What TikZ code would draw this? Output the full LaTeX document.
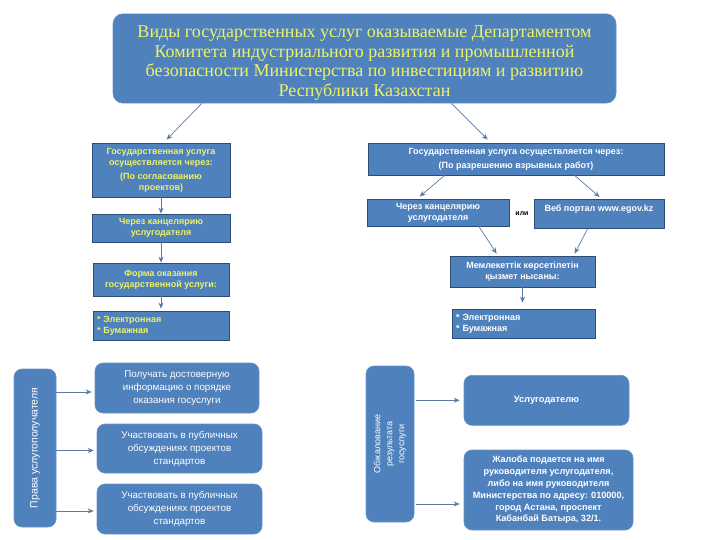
\documentclass[tikz,border=0pt]{standalone}
\usepackage{fontspec}
\setmainfont{Liberation Serif}
\setsansfont{Liberation Sans}
\usetikzlibrary{arrows.meta,calc}
\definecolor{myblue}{HTML}{4F81BD}
\definecolor{myedge}{HTML}{2C4D75}
\definecolor{myarrow}{HTML}{5A7AA6}
\definecolor{myyellow}{HTML}{EEF266}
\tikzset{
  sq/.style={rectangle, fill=myblue, draw=myedge, line width=0.8pt, inner sep=2pt, align=center, font=\sffamily\bfseries\fontsize{9}{11}\selectfont},
  rnd/.style={rectangle, rounded corners=8pt, fill=myblue, draw=myblue!85!white, line width=0.6pt, inner sep=3pt, align=center, text=white},
  arr/.style={draw=myarrow, line width=0.7pt, -{Stealth[length=6pt,width=5pt]}},
}
\begin{document}
\begin{tikzpicture}[x=1pt,y=-1pt]
\useasboundingbox (0,0) rectangle (720,540);
\fill[white] (0,0) rectangle (720,540);
% title
\node[rnd, rounded corners=10pt, minimum width=503pt, minimum height=89pt, text=myyellow, font=\fontsize{18}{19.5}\selectfont] (title) at (364.5,58.5)
 {\rule{0pt}{21pt}Виды государственных услуг оказываемые Департаментом\\Комитета индустриального развития и промышленной\\безопасности Министерства по инвестициям и развитию\\Республики Казахстан};
% left column
\node[sq, text=myyellow, minimum width=138pt, minimum height=54pt] (b1) at (161,170)
 {Государственная услуга\\осуществляется через:\\[3pt](По согласованию\\проектов)};
\node[sq, text=myyellow, minimum width=138pt, minimum height=28pt] (b2) at (161,228)
 {Через канцелярию\\услугодателя};
\node[sq, text=myyellow, minimum width=136pt, minimum height=33pt] (b3) at (161,279.5)
 {Форма оказания\\государственной услуги:};
\node[sq, text=myyellow, minimum width=136pt, minimum height=29pt, align=left, text width=128pt] (b4) at (161,325.5)
 {* Электронная\\\relax * Бумажная};
\draw[arr] ([xshift=89pt]title.south west) -- ([xshift=75pt,yshift=3pt]b1.north west);
\draw[arr] (b1.south) -- (b2.north);
\draw[arr] (b2.south) -- (b3.north);
\draw[arr] (b3.south) -- ([yshift=2pt]b4.north);
% right column
\node[sq, text=white, minimum width=296pt, minimum height=32pt] (r1) at (516,159)
 {Государственная услуга осуществляется через:\\[3pt](По разрешению взрывных работ)};
\node[sq, text=white, minimum width=142pt, minimum height=27pt] (r2a) at (438,212.5)
 {Через канцелярию\\услугодателя};
\node[sq, text=white, minimum width=130pt, minimum height=29pt, anchor=north] (r2b) at (599,199)
 {Веб портал www.egov.kz\\\mbox{}};
\node[font=\sffamily\bfseries\fontsize{7}{8}\selectfont] (ili) at (522,214) {или};
\node[sq, text=white, minimum width=145pt, minimum height=31pt] (r3) at (522.5,271.5)
 {Мемлекеттік көрсетілетін\\қызмет нысаны:};
\node[sq, text=white, minimum width=143pt, minimum height=29pt, align=left, text width=135pt] (r4) at (523.5,323.5)
 {* Электронная\\\relax * Бумажная};
\draw[arr] ([xshift=339pt]title.south west) -- ([xshift=120pt,yshift=3pt]r1.north west);
\draw[arr] ([xshift=77pt]r1.south west) -- ([xshift=53pt,yshift=2pt]r2a.north west);
\draw[arr] ([xshift=207pt]r1.south west) -- ([xshift=66pt,yshift=2pt]r2b.north west);
\draw[arr] ([xshift=111pt,yshift=2pt]r2a.south west) -- ([xshift=47pt,yshift=2pt]r3.north west);
\draw[arr] ([xshift=54pt]r2b.south west) -- ([xshift=125pt,yshift=2pt]r3.north west);
\draw[arr] (r3.south) -- ([yshift=6pt]r3.south |- r4.north);
% bottom left
\node[rnd, minimum width=42pt, minimum height=158pt] (vl) at (35,448) {};
\node[rotate=90, text=white, font=\sffamily\fontsize{10.5}{12}\selectfont] (vlt) at (vl.center) {Права услугополучателя};
\node[rnd, minimum width=164pt, minimum height=50pt, font=\sffamily\fontsize{9.8}{13}\selectfont] (p1) at (177,388)
 {Получать достоверную\\информацию о порядке\\оказания госуслуги};
\node[rnd, minimum width=165pt, minimum height=49pt, font=\sffamily\fontsize{9.8}{13}\selectfont] (p2) at (179.5,448.5)
 {Участвовать в публичных\\обсуждениях проектов\\стандартов};
\node[rnd, minimum width=165pt, minimum height=50pt, font=\sffamily\fontsize{9.8}{13}\selectfont] (p3) at (179.5,509)
 {Участвовать в публичных\\обсуждениях проектов\\стандартов};
\draw[arr] ([yshift=-4pt]p1.west -| vl.east) -- ([xshift=-3pt,yshift=-4pt]p1.west);
\draw[arr] ([yshift=-2pt]p2.west -| vl.east) -- ([xshift=-3pt,yshift=-2pt]p2.west);
\draw[arr] ([yshift=-2pt]p3.west -| vl.east) -- ([xshift=-3pt,yshift=-2pt]p3.west);
% bottom right
\node[rnd, minimum width=48pt, minimum height=156pt] (vr) at (390,444) {};
\node[rotate=90, text=white, align=center, font=\sffamily\fontsize{9}{12}\selectfont] (vrt) at (vr.center) {Обжалование\\результата\\госуслуги};
\node[rnd, minimum width=165pt, minimum height=50pt, font=\sffamily\bfseries\fontsize{9.3}{12}\selectfont, anchor=north, inner sep=5pt] (u1) at (546.5,375)
 {Услугодателю};
\node[rnd, minimum width=169pt, minimum height=80pt, font=\sffamily\bfseries\fontsize{9.1}{11.8}\selectfont] (u2) at (548.5,490)
 {Жалоба подается на имя\\руководителя услугодателя,\\либо на имя руководителя\\Министерства по адресу: 010000,\\город Астана, проспект\\Кабанбай Батыра, 32/1.};
\draw[arr] ([xshift=2pt]u1.west -| vr.east) -- ([xshift=-4pt]u1.west);
\draw[arr] ([xshift=2pt,yshift=-14pt]u2.west -| vr.east) -- ([xshift=-4pt,yshift=-14pt]u2.west);
\end{tikzpicture}
\end{document}
